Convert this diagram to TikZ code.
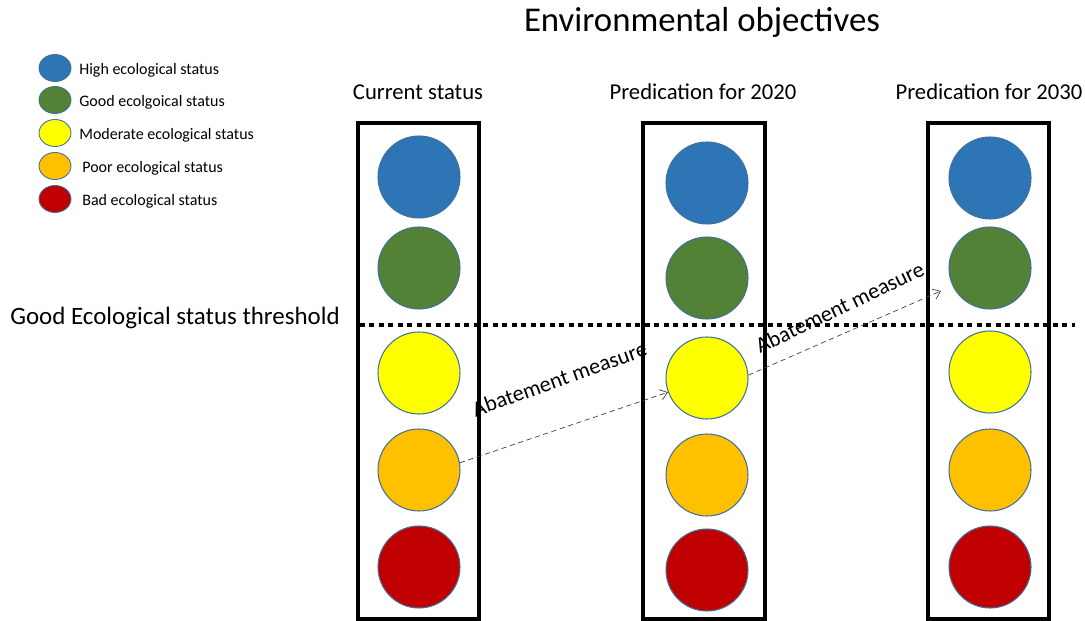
\documentclass[tikz,border=0pt]{standalone}
\usepackage{fontspec}
\setmainfont{Carlito}
\usetikzlibrary{arrows.meta,shapes.geometric}
\definecolor{stHigh}{HTML}{2E75B6}
\definecolor{stGood}{HTML}{538135}
\definecolor{stModerate}{HTML}{FFFF00}
\definecolor{stPoor}{HTML}{FFC000}
\definecolor{stBad}{HTML}{C00000}
\definecolor{rimblue}{HTML}{41719C}
\begin{document}
\begin{tikzpicture}[x=0.02cm,y=-0.02cm,
  status/.style={circle,draw=rimblue,line width=0.6pt,minimum size=82*0.02cm,inner sep=0pt},
  keydot/.style={ellipse,draw=rimblue,line width=0.5pt,minimum width=32*0.02cm,minimum height=27*0.02cm,inner sep=0pt},
  keytext/.style={anchor=west,font=\fontsize{9.1}{11}\selectfont,inner sep=0pt},
  column/.style={draw=black,line width=1.8pt},
  heading/.style={font=\fontsize{12.9}{15}\selectfont},
  measure/.style={draw=black!75,densely dashed,line width=0.4pt,-{Straight Barb[length=4pt,width=6pt]}},
  measuretext/.style={font=\fontsize{12.6}{15}\selectfont,inner sep=0pt,anchor=base}]
\useasboundingbox (0,0) rectangle (1085,621);

% title and column headings
\node[font=\fontsize{19.8}{23}\selectfont] (title) at (702,22) {Environmental objectives};
\node[heading] (h1) at (418,92) {Current status};
\node[heading] (h2) at (703,92) {Predication for 2020};
\node[heading] (h3) at (989,92) {Predication for 2030};

% legend
\node[keydot,fill=stHigh] (k1) at (55,68) {};
\node[keydot,fill=stGood] (k2) at (55,100) {};
\node[keydot,fill=stModerate] (k3) at (55,133) {};
\node[keydot,fill=stPoor] (k4) at (55,166) {};
\node[keydot,fill=stBad] (k5) at (55,199) {};
\node[keytext] (t1) at (79,70) {High ecological status};
\node[keytext] (t2) at (79,102) {Good ecolgoical status};
\node[keytext] (t3) at (79,135) {Moderate ecological status};
\node[keytext] (t4) at (82,168) {Poor ecological status};
\node[keytext] (t5) at (82,201) {Bad ecological status};

% column frames
\draw[column] (358,123) rectangle (479,619);
\draw[column] (643,123) rectangle (765,619);
\draw[column] (928,123) rectangle (1049,619);

% status circles, current
\node[status,fill=stHigh] (c1h) at (419,177) {};
\node[status,fill=stGood] (c1g) at (419,268) {};
\node[status,fill=stModerate] (c1m) at (419,373) {};
\node[status,fill=stPoor] (c1p) at (419,470) {};
\node[status,fill=stBad] (c1b) at (419,567) {};
% status circles, 2020
\node[status,fill=stHigh] (c2h) at (707,183) {};
\node[status,fill=stGood] (c2g) at (707,278) {};
\node[status,fill=stModerate] (c2m) at (707,378) {};
\node[status,fill=stPoor] (c2p) at (707,475) {};
\node[status,fill=stBad] (c2b) at (707,570) {};
% status circles, 2030
\node[status,fill=stHigh] (c3h) at (990,178) {};
\node[status,fill=stGood] (c3g) at (990,268) {};
\node[status,fill=stModerate] (c3m) at (990,372) {};
\node[status,fill=stPoor] (c3p) at (990,470) {};
\node[status,fill=stBad] (c3b) at (990,567) {};

% threshold
\node[font=\fontsize{14.2}{17}\selectfont,anchor=west,inner sep=0pt] (thr) at (10,318) {Good Ecological status threshold};
\coordinate (thrA) at (360,325);
\coordinate (thrB) at (1075,325);
\draw[black,line width=2pt,dash pattern=on 2.8pt off 2.6pt] (thrA) -- (thrB);

% abatement measures
\coordinate (tip2) at (941,291);
\draw[measure] (c1p.10) -- (c2m.200);
\draw[measure] (c2m.4) -- (tip2);
\node[measuretext,rotate=19.8] (m1) at (562,386) {Abatement measure};
\node[measuretext,rotate=25.6] (m2) at (843,314) {Abatement measure};
\end{tikzpicture}
\end{document}
